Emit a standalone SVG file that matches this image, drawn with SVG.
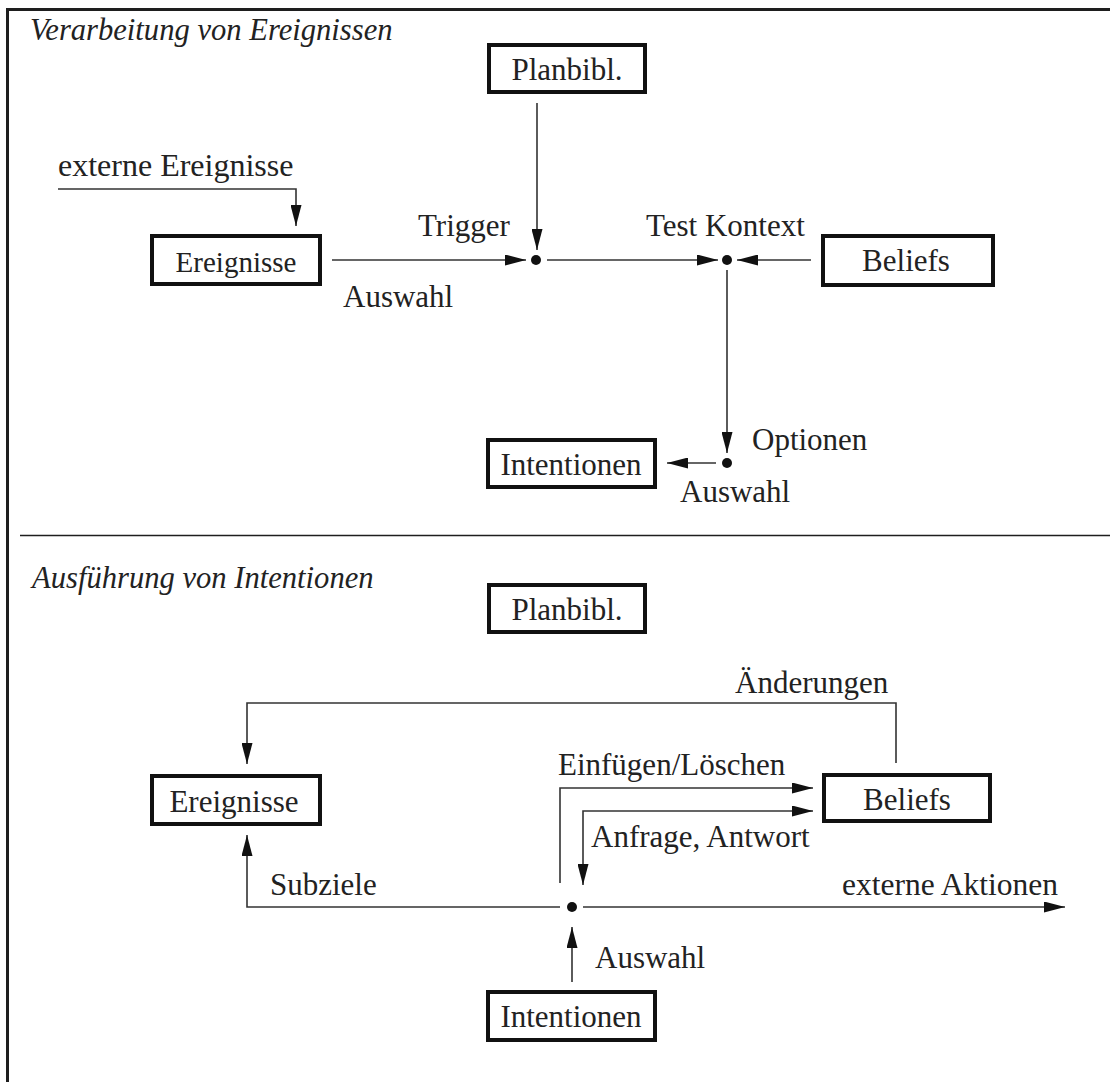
<svg xmlns="http://www.w3.org/2000/svg" width="1110" height="1082" viewBox="0 0 1110 1082">
  <style>
    text { font-family: "Liberation Serif", "Times New Roman", serif; font-size: 31px; fill: #222; }
    .title { font-style: italic; font-size: 30.6px; }
    .box rect { fill: #fff; stroke: #111; stroke-width: 4; }
    .box text { text-anchor: middle; }
    .frame { stroke: #1e1e1e; fill: none; }
    #connectors path { fill: none; stroke: #333; stroke-width: 1.6; }
    .dot { fill: #111; }
  </style>
  <defs>
    <marker id="arrow" markerUnits="userSpaceOnUse" markerWidth="21" markerHeight="11" refX="21" refY="5.5" orient="auto-start-reverse">
      <path d="M0,0 L21,5.5 L0,11 z" fill="#111"/>
    </marker>
  </defs>

  <rect width="1110" height="1082" fill="#fff"/>

  <!-- frame and section divider -->
  <line class="frame" x1="6" y1="9.5" x2="1110" y2="9.5" stroke-width="3"/>
  <line class="frame" x1="7.5" y1="8" x2="7.5" y2="1082" stroke-width="3"/>
  <line class="frame" x1="20" y1="535.5" x2="1110" y2="535.5" stroke-width="1.5"/>

  <!-- section titles -->
  <text class="title" x="30" y="40">Verarbeitung von Ereignissen</text>
  <text class="title" x="32" y="588">Ausführung von Intentionen</text>

  <!-- upper section: event processing -->
  <g id="planbibl-top" class="box">
    <rect x="489" y="45" width="156" height="47"/>
    <text x="567" y="80">Planbibl.</text>
  </g>
  <g id="ereignisse-top" class="box">
    <rect x="152" y="236" width="168" height="48"/>
    <text x="236" y="272" style="font-size:29px">Ereignisse</text>
  </g>
  <g id="beliefs-top" class="box">
    <rect x="823" y="236" width="170" height="49"/>
    <text x="906" y="271">Beliefs</text>
  </g>
  <g id="intentionen-top" class="box">
    <rect x="488" y="440" width="167" height="47"/>
    <text x="571" y="475">Intentionen</text>
  </g>

  <!-- lower section: intention execution -->
  <g id="planbibl-bottom" class="box">
    <rect x="489" y="585" width="156" height="47"/>
    <text x="567" y="620">Planbibl.</text>
  </g>
  <g id="ereignisse-bottom" class="box">
    <rect x="152" y="776" width="168" height="48"/>
    <text x="234" y="812">Ereignisse</text>
  </g>
  <g id="beliefs-bottom" class="box">
    <rect x="824" y="775" width="166" height="46"/>
    <text x="907" y="810">Beliefs</text>
  </g>
  <g id="intentionen-bottom" class="box">
    <rect x="488" y="992" width="167" height="48"/>
    <text x="571" y="1027">Intentionen</text>
  </g>

  <g id="connectors">
    <!-- upper section -->
    <path d="M58,189 H296 V226" marker-end="url(#arrow)"/>
    <path d="M537,103 V250" marker-end="url(#arrow)"/>
    <path d="M332,260 H526" marker-end="url(#arrow)"/>
    <path d="M547,260 H718" marker-end="url(#arrow)"/>
    <path d="M811,260 H737" marker-end="url(#arrow)"/>
    <path d="M727,270 V453" marker-end="url(#arrow)"/>
    <path d="M716,463 H667" marker-end="url(#arrow)"/>
    <circle class="dot" cx="536" cy="260" r="5"/>
    <circle class="dot" cx="727" cy="260" r="5"/>
    <circle class="dot" cx="727" cy="463" r="5"/>

    <!-- lower section -->
    <path d="M896,763 V703 H247 V764" marker-end="url(#arrow)"/>
    <path d="M560,883 V788 H813" marker-end="url(#arrow)"/>
    <path d="M813,811 H583 V885" marker-start="url(#arrow)" marker-end="url(#arrow)"/>
    <path d="M560,907 H247 V835" marker-end="url(#arrow)"/>
    <path d="M583,907 H1065" marker-end="url(#arrow)"/>
    <path d="M572,982 V927" marker-end="url(#arrow)"/>
    <circle class="dot" cx="572" cy="907" r="5"/>
  </g>

  <!-- connector labels -->
  <text x="58" y="176" style="font-size:32px">externe Ereignisse</text>
  <text x="418" y="236">Trigger</text>
  <text x="343" y="307">Auswahl</text>
  <text x="646" y="236">Test Kontext</text>
  <text x="752" y="450">Optionen</text>
  <text x="680" y="502">Auswahl</text>

  <text x="735" y="693">Änderungen</text>
  <text x="558" y="775">Einfügen/Löschen</text>
  <text x="591" y="847">Anfrage, Antwort</text>
  <text x="270" y="895">Subziele</text>
  <text x="842" y="895" style="font-size:31.5px">externe Aktionen</text>
  <text x="595" y="968">Auswahl</text>
</svg>
